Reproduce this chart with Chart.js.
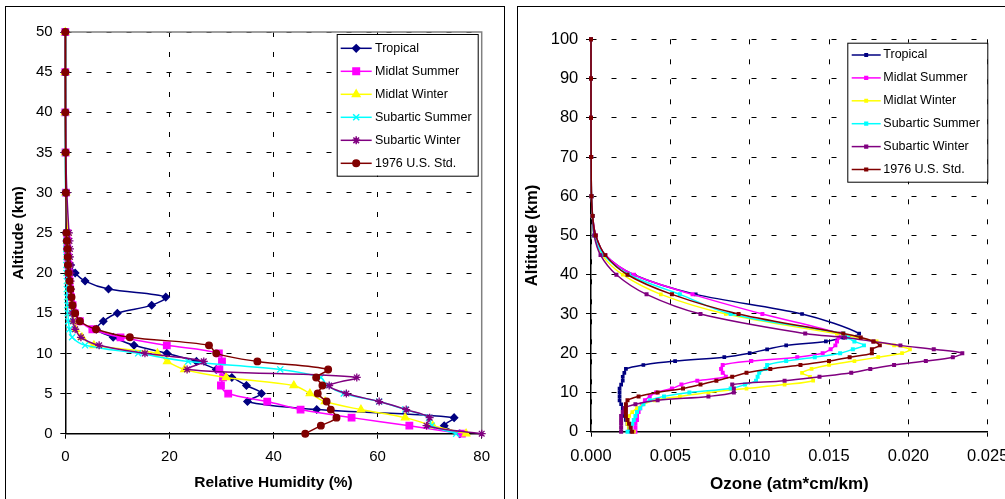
<!DOCTYPE html>
<html>
<head>
<meta charset="utf-8">
<title>Atmosphere profiles</title>
<script src="https://cdn.jsdelivr.net/npm/chart.js@4.4.1/dist/chart.umd.min.js"></script>
<style>
  html, body { margin: 0; padding: 0; background: #fff; width: 1005px; height: 499px; overflow: hidden; }
  .panel { position: absolute; border: 1.5px solid #000; box-sizing: border-box; }
  #panelRH { left: 5px; top: 6px; width: 500px; height: 520px; }
  #panelO3 { left: 517px; top: 6px; width: 520px; height: 520px; }
  canvas { position: absolute; top: 0; }
  #chartRH { left: 0; }
  #chartO3 { left: 510px; }
</style>
</head>
<body>
<div class="panel" id="panelRH"></div>
<div class="panel" id="panelO3"></div>
<canvas id="chartRH" width="510" height="499"></canvas>
<canvas id="chartO3" width="520" height="499"></canvas>
<script>
// six model atmospheres
const seriesNames = ['Tropical', 'Midlat Summer', 'Midlat Winter', 'Subartic Summer', 'Subartic Winter', '1976 U.S. Std.'];
const seriesColors = ['#000080', '#ff00ff', '#ffff00', '#00ffff', '#800080', '#800000'];

// relative humidity (%) by altitude (km)
const rhAltitude = [0, 1, 2, 3, 4, 5, 6, 7, 8, 9, 10, 11, 12, 13, 14, 15, 16, 17, 18, 19, 20, 21, 22, 23, 24, 25, 30, 35, 40, 45, 50];
const rhTropical = [75.8, 72.8, 74.7, 48.3, 35.0, 37.7, 34.8, 32.0, 29.0, 25.2, 19.5, 13.2, 9.2, 6.0, 7.3, 10.0, 16.6, 19.3, 8.3, 3.8, 1.9, 1.0, 0.6, 0.4, 0.3, 0.2, 0.1, 0.05, 0, 0, 0];
const rhMidlatSummer = [76.2, 66.1, 55.0, 45.2, 38.8, 31.3, 29.9, 30.3, 29.6, 30.1, 29.5, 19.5, 10.6, 5.2, 2.8, 1.8, 1.4, 1.1, 0.9, 0.8, 0.7, 0.6, 0.5, 0.4, 0.4, 0.3, 0.1, 0.05, 0, 0, 0];
const rhMidlatWinter = [77.0, 70.6, 65.3, 56.8, 49.9, 47.0, 43.9, 30.9, 22.9, 19.6, 17.7, 5.5, 3.2, 2.0, 1.5, 1.2, 1.0, 0.9, 0.8, 0.7, 0.6, 0.6, 0.5, 0.5, 0.4, 0.4, 0.1, 0.05, 0, 0, 0];
const rhSubarticSummer = [75.1, 70.4, 69.9, 65.3, 60.3, 53.5, 50.3, 49.1, 41.3, 23.6, 14.0, 3.8, 1.3, 0.8, 0.6, 0.5, 0.4, 0.35, 0.3, 0.3, 0.25, 0.2, 0.2, 0.2, 0.2, 0.2, 0.05, 0, 0, 0, 0];
const rhSubarticWinter = [80.0, 69.4, 70.0, 65.5, 60.3, 54.0, 50.7, 56.0, 23.4, 26.6, 15.3, 6.5, 3.0, 1.9, 1.5, 1.3, 1.2, 1.1, 1.1, 1.0, 1.0, 1.0, 0.9, 0.9, 0.8, 0.7, 0.3, 0.1, 0.05, 0, 0];
const rhUSStd = [46.1, 49.1, 52.1, 51.0, 50.2, 48.5, 49.4, 48.2, 50.5, 36.9, 29.0, 27.6, 12.4, 5.9, 2.8, 1.9, 1.4, 1.2, 1.0, 0.8, 0.6, 0.5, 0.45, 0.4, 0.3, 0.2, 0.1, 0.05, 0, 0, 0];

// ozone (atm*cm/km) by altitude (km)
const o3Altitude = [0, 1, 2, 3, 4, 5, 6, 7, 8, 9, 10, 11, 12, 13, 14, 15, 16, 17, 18, 19, 20, 21, 22, 23, 24, 25, 30, 35, 40, 45, 50, 55, 60, 70, 80, 90, 100];
const o3Tropical = [0.0025, 0.0024, 0.0023, 0.0022, 0.0021, 0.0021, 0.0020, 0.0019, 0.0018, 0.0018, 0.0018, 0.0018, 0.0019, 0.0020, 0.0020, 0.0021, 0.0022, 0.0033, 0.0053, 0.0084, 0.0100, 0.0111, 0.0123, 0.0148, 0.0159, 0.0169, 0.0133, 0.0066, 0.0027, 0.0009, 0.0003, 0.0001, 0.00003, 0.00001, 0, 0, 0];
const o3MidlatSummer = [0.0028, 0.0028, 0.0028, 0.0029, 0.0029, 0.0030, 0.0031, 0.0032, 0.0034, 0.0037, 0.0041, 0.0051, 0.0057, 0.0067, 0.0085, 0.0083, 0.0082, 0.0083, 0.0101, 0.0130, 0.0146, 0.0151, 0.0154, 0.0155, 0.0156, 0.0157, 0.0108, 0.0064, 0.0027, 0.0009, 0.0003, 0.0001, 0.00003, 0.00001, 0, 0, 0];
const o3MidlatWinter = [0.0027, 0.0024, 0.0023, 0.0023, 0.0024, 0.0026, 0.0029, 0.0033, 0.0040, 0.0056, 0.0074, 0.0098, 0.0122, 0.0140, 0.0138, 0.0133, 0.0139, 0.0150, 0.0166, 0.0181, 0.0196, 0.0201, 0.0191, 0.0180, 0.0168, 0.0155, 0.0085, 0.0044, 0.0020, 0.0007, 0.0002, 0.0001, 0.00003, 0.00001, 0, 0, 0];
const o3SubarticSummer = [0.0023, 0.0025, 0.0026, 0.0027, 0.0028, 0.0029, 0.0031, 0.0033, 0.0037, 0.0046, 0.0062, 0.0088, 0.0097, 0.0104, 0.0105, 0.0106, 0.0110, 0.0111, 0.0123, 0.0141, 0.0157, 0.0165, 0.0172, 0.0166, 0.0162, 0.0159, 0.0088, 0.0056, 0.0024, 0.0008, 0.0002, 0.0001, 0.00003, 0.00001, 0, 0, 0];
const o3SubarticWinter = [0.0019, 0.0019, 0.0019, 0.0019, 0.0019, 0.0020, 0.0021, 0.0028, 0.0042, 0.0074, 0.0090, 0.0090, 0.0089, 0.0122, 0.0144, 0.0164, 0.0176, 0.0191, 0.0211, 0.0228, 0.0234, 0.0216, 0.0195, 0.0178, 0.0160, 0.0135, 0.0069, 0.0035, 0.0016, 0.0006, 0.0002, 0.0001, 0.00003, 0.00001, 0, 0, 0];
const o3USStd = [0.0026, 0.0025, 0.0024, 0.0023, 0.0022, 0.0022, 0.0022, 0.0022, 0.0023, 0.0030, 0.0042, 0.0058, 0.0069, 0.0079, 0.0089, 0.0098, 0.0113, 0.0132, 0.0150, 0.0163, 0.0177, 0.0177, 0.0182, 0.0178, 0.0170, 0.0159, 0.0093, 0.0051, 0.0023, 0.0009, 0.0003, 0.0001, 0.00003, 0.00001, 0, 0, 0];

const rhMarkers = ['rectRot', 'rect', 'triangle', 'crossRot', 'star', 'circle'];
const rhMarkerSize = [3.6, 4.6, 4.3, 4.3, 4, 3.3];
const o3Markers = ['rect', 'rect', 'rect', 'rect', 'rect', 'rect'];
const o3MarkerSize = [1.7, 1.9, 1.7, 1.9, 1.9, 1.9];

const FONT = "'Liberation Sans', Arial, sans-serif";
Chart.defaults.font.family = FONT;
Chart.defaults.color = '#000';

function toPoints(alt, vals) {
    return vals.map((v, i) => ({ x: v, y: alt[i] }));
}

function makeDatasets(alt, cols, styles, sizes) {
    return cols.map((vals, i) => ({
        label: seriesNames[i],
        data: toPoints(alt, vals),
        showLine: true,
        borderColor: seriesColors[i],
        backgroundColor: seriesColors[i],
        pointBackgroundColor: seriesColors[i],
        pointBorderColor: seriesColors[i],
        pointStyle: styles[i],
        pointRadius: sizes[i],
        pointBorderWidth: 1.3,
        borderWidth: 1.5,
        tension: 0.33,
        clip: false,
        order: cols.length - 1 - i   // last series on top
    }));
}

// gray frame on the top and right edge of the plot area
const plotFrame = {
    id: 'plotFrame',
    beforeDatasetsDraw(chart, args, opts) {
        if (!opts.color) return;
        const { ctx, chartArea: a } = chart;
        ctx.save();
        ctx.strokeStyle = opts.color;
        ctx.lineWidth = 1.5;
        ctx.beginPath();
        ctx.moveTo(a.left, a.top);
        ctx.lineTo(a.right, a.top);
        ctx.lineTo(a.right, a.bottom);
        ctx.stroke();
        ctx.restore();
    }
};

// boxed legend with a line sample and the series marker
const boxLegend = {
    id: 'boxLegend',
    afterDraw(chart, args, o) {
        const ctx = chart.ctx;
        ctx.save();
        ctx.fillStyle = '#fff';
        ctx.fillRect(o.x, o.y, o.w, o.h);
        ctx.strokeStyle = '#000';
        ctx.lineWidth = 1;
        ctx.strokeRect(o.x + 0.5, o.y + 0.5, o.w, o.h);
        chart.data.datasets.forEach((ds, i) => {
            const cy = o.rowTop + i * o.rowGap;
            ctx.strokeStyle = ds.borderColor;
            ctx.fillStyle = ds.borderColor;
            ctx.lineWidth = ds.borderWidth;
            ctx.beginPath();
            ctx.moveTo(o.lineX1, cy);
            ctx.lineTo(o.lineX2, cy);
            ctx.stroke();
            Chart.helpers.drawPoint(ctx, {
                pointStyle: ds.pointStyle,
                radius: ds.pointRadius,
                borderWidth: ds.pointBorderWidth,
                rotation: 0
            }, (o.lineX1 + o.lineX2) / 2, cy);
            ctx.fillStyle = '#000';
            ctx.font = o.fontSize + 'px ' + FONT;
            ctx.textBaseline = 'middle';
            ctx.textAlign = 'left';
            ctx.fillText(ds.label, o.textX, cy);
        });
        ctx.restore();
    }
};

function axisStyle() {
    return {
        grid: { color: '#000', lineWidth: 1, tickLength: 5, tickColor: '#000', tickWidth: 1 },
        border: { color: '#000', width: 1.5, dash: [5, 15] }
    };
}

new Chart(document.getElementById('chartRH'), {
    type: 'scatter',
    data: {
        datasets: makeDatasets(rhAltitude,
            [rhTropical, rhMidlatSummer, rhMidlatWinter, rhSubarticSummer, rhSubarticWinter, rhUSStd],
            rhMarkers, rhMarkerSize)
    },
    options: {
        responsive: false,
        animation: false,
        events: [],
        layout: { padding: { left: 0, top: 32, right: 28.3, bottom: 0 } },
        plugins: {
            legend: { display: false },
            tooltip: { enabled: false },
            plotFrame: { color: '#808080' },
            boxLegend: { x: 336.7, y: 34, w: 141, h: 141.7, rowTop: 48.3, rowGap: 23, lineX1: 340.7, lineX2: 371.7, textX: 375, fontSize: 12.5 }
        },
        scales: {
            x: {
                type: 'linear', min: 0, max: 80,
                afterFit: s => { s.height = 65.3; },
                ticks: { stepSize: 20, padding: 9, font: { size: 15 } },
                title: { display: true, text: 'Relative Humidity (%)', font: { size: 15.5, weight: 'bold' }, padding: { top: 0, bottom: 6.7 } },
                ...axisStyle()
            },
            y: {
                type: 'linear', min: 0, max: 50,
                afterFit: s => { s.width = 65.3; },
                ticks: { stepSize: 5, padding: 7.6, font: { size: 15 } },
                title: { display: true, text: 'Altitude (km)', font: { size: 15.3, weight: 'bold' }, padding: { top: 9.8, bottom: 0 } },
                ...axisStyle()
            }
        }
    },
    plugins: [plotFrame, boxLegend]
});

new Chart(document.getElementById('chartO3'), {
    type: 'scatter',
    data: {
        datasets: makeDatasets(o3Altitude,
            [o3Tropical, o3MidlatSummer, o3MidlatWinter, o3SubarticSummer, o3SubarticWinter, o3USStd],
            o3Markers, o3MarkerSize)
    },
    options: {
        responsive: false,
        animation: false,
        events: [],
        layout: { padding: { left: 0, top: 39.3, right: 42.3, bottom: 0 } },
        plugins: {
            legend: { display: false },
            tooltip: { enabled: false },
            boxLegend: { x: 337.3, y: 42.7, w: 140, h: 139, rowTop: 55, rowGap: 22.9, lineX1: 341.7, lineX2: 370.7, textX: 373.3, fontSize: 12.5 }
        },
        scales: {
            x: {
                type: 'linear', min: 0, max: 0.025,
                afterFit: s => { s.height = 67.3; },
                ticks: { stepSize: 0.005, padding: 10, font: { size: 16.5 }, callback: v => v.toFixed(3) },
                title: { display: true, text: 'Ozone (atm*cm/km)', font: { size: 17, weight: 'bold' }, padding: { top: 0, bottom: 4 } },
                ...axisStyle()
            },
            y: {
                type: 'linear', min: 0, max: 100,
                afterFit: s => { s.width = 81; },
                ticks: { stepSize: 10, padding: 7.7, font: { size: 16.5 } },
                title: { display: true, text: 'Altitude (km)', font: { size: 16.6, weight: 'bold' }, padding: { top: 12.7, bottom: 0 } },
                ...axisStyle()
            }
        }
    },
    plugins: [boxLegend]
});
</script>
</body>
</html>
